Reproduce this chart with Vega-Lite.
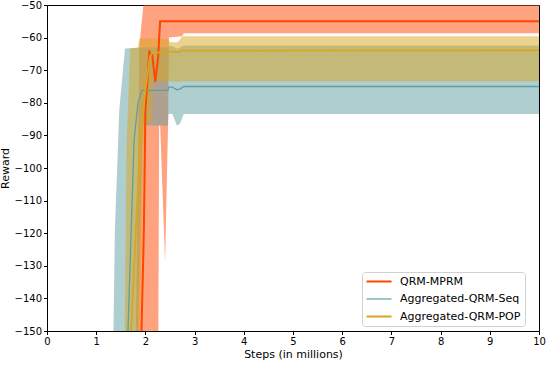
{
  "$schema": "https://vega.github.io/schema/vega-lite/v6.json",
  "width": 492,
  "height": 326,
  "autosize": {"type": "none"},
  "padding": {"left": 47, "top": 5, "right": 7, "bottom": 61},
  "background": "white",
  "config": {
    "font": "DejaVu Sans",
    "view": {"stroke": "black", "strokeWidth": 1},
    "axis": {
      "domainColor": "black", "tickColor": "black", "tickSize": 3.5, "grid": false,
      "labelColor": "black", "labelFontSize": 10, "titleFontSize": 11, "titleColor": "black",
      "titleFontWeight": "normal", "labelFont": "DejaVu Sans", "titleFont": "DejaVu Sans",
      "labelOverlap": false
    },
    "legend": {"labelFont": "DejaVu Sans"}
  },
  "data": {"values": [
    {"s": "QRM-MPRM", "x": 1.5, "mean": -400, "lo": -500, "hi": -300},
    {"s": "QRM-MPRM", "x": 1.8, "mean": -260, "lo": -400, "hi": -160},
    {"s": "QRM-MPRM", "x": 1.875, "mean": -200, "lo": -330, "hi": -63},
    {"s": "QRM-MPRM", "x": 1.92, "mean": -150, "lo": -300, "hi": -56},
    {"s": "QRM-MPRM", "x": 1.96, "mean": -125, "lo": -270, "hi": -50},
    {"s": "QRM-MPRM", "x": 1.97, "mean": -118, "lo": -260, "hi": -49},
    {"s": "QRM-MPRM", "x": 2.0, "mean": -82, "lo": -240, "hi": -46},
    {"s": "QRM-MPRM", "x": 2.08, "mean": -64.4, "lo": -210, "hi": -44},
    {"s": "QRM-MPRM", "x": 2.14, "mean": -65.5, "lo": -195, "hi": -44},
    {"s": "QRM-MPRM", "x": 2.2, "mean": -73.6, "lo": -180, "hi": -44},
    {"s": "QRM-MPRM", "x": 2.26, "mean": -66, "lo": -160, "hi": -44},
    {"s": "QRM-MPRM", "x": 2.28, "mean": -60, "lo": -87, "hi": -44},
    {"s": "QRM-MPRM", "x": 2.3, "mean": -55, "lo": -87, "hi": -48},
    {"s": "QRM-MPRM", "x": 2.4, "mean": -55, "lo": -129, "hi": -48},
    {"s": "QRM-MPRM", "x": 2.46, "mean": -55, "lo": -87, "hi": -48},
    {"s": "QRM-MPRM", "x": 2.48, "mean": -55, "lo": -60, "hi": -48},
    {"s": "QRM-MPRM", "x": 2.75, "mean": -55, "lo": -59.6, "hi": -48},
    {"s": "QRM-MPRM", "x": 2.78, "mean": -55, "lo": -58.7, "hi": -48},
    {"s": "QRM-MPRM", "x": 10, "mean": -55, "lo": -58.7, "hi": -48},

    {"s": "Aggregated-QRM-Seq", "x": 1.2, "mean": -350, "lo": -500, "hi": -250},
    {"s": "Aggregated-QRM-Seq", "x": 1.35, "mean": -280, "lo": -450, "hi": -150},
    {"s": "Aggregated-QRM-Seq", "x": 1.38, "mean": -270, "lo": -440, "hi": -119},
    {"s": "Aggregated-QRM-Seq", "x": 1.47, "mean": -230, "lo": -400, "hi": -82},
    {"s": "Aggregated-QRM-Seq", "x": 1.585, "mean": -170, "lo": -330, "hi": -63.4},
    {"s": "Aggregated-QRM-Seq", "x": 1.646, "mean": -150, "lo": -300, "hi": -63.3},
    {"s": "Aggregated-QRM-Seq", "x": 1.77, "mean": -91.5, "lo": -220, "hi": -63.2},
    {"s": "Aggregated-QRM-Seq", "x": 1.85, "mean": -80, "lo": -150, "hi": -63.1},
    {"s": "Aggregated-QRM-Seq", "x": 1.93, "mean": -76.2, "lo": -95, "hi": -63},
    {"s": "Aggregated-QRM-Seq", "x": 1.95, "mean": -76.2, "lo": -87, "hi": -63},
    {"s": "Aggregated-QRM-Seq", "x": 2.46, "mean": -76.2, "lo": -87, "hi": -63},
    {"s": "Aggregated-QRM-Seq", "x": 2.47, "mean": -75.2, "lo": -83.4, "hi": -62.6},
    {"s": "Aggregated-QRM-Seq", "x": 2.55, "mean": -75.2, "lo": -83.4, "hi": -62.6},
    {"s": "Aggregated-QRM-Seq", "x": 2.64, "mean": -76, "lo": -87, "hi": -63.4},
    {"s": "Aggregated-QRM-Seq", "x": 2.7, "mean": -75.8, "lo": -86.5, "hi": -63},
    {"s": "Aggregated-QRM-Seq", "x": 2.78, "mean": -75, "lo": -83.4, "hi": -62.4},
    {"s": "Aggregated-QRM-Seq", "x": 10, "mean": -75, "lo": -83.4, "hi": -62.4},

    {"s": "Aggregated-QRM-POP", "x": 1.4, "mean": -350, "lo": -500, "hi": -250},
    {"s": "Aggregated-QRM-POP", "x": 1.58, "mean": -250, "lo": -400, "hi": -150},
    {"s": "Aggregated-QRM-POP", "x": 1.62, "mean": -220, "lo": -380, "hi": -92},
    {"s": "Aggregated-QRM-POP", "x": 1.69, "mean": -160, "lo": -330, "hi": -63.5},
    {"s": "Aggregated-QRM-POP", "x": 1.71, "mean": -150, "lo": -300, "hi": -63.3},
    {"s": "Aggregated-QRM-POP", "x": 1.85, "mean": -105, "lo": -200, "hi": -63},
    {"s": "Aggregated-QRM-POP", "x": 1.87, "mean": -100, "lo": -180, "hi": -60.5},
    {"s": "Aggregated-QRM-POP", "x": 1.89, "mean": -91.6, "lo": -150, "hi": -60.3},
    {"s": "Aggregated-QRM-POP", "x": 1.95, "mean": -84, "lo": -95, "hi": -60.3},
    {"s": "Aggregated-QRM-POP", "x": 2.0, "mean": -76, "lo": -87, "hi": -60.3},
    {"s": "Aggregated-QRM-POP", "x": 2.09, "mean": -66, "lo": -86, "hi": -60.3},
    {"s": "Aggregated-QRM-POP", "x": 2.13, "mean": -64.8, "lo": -86, "hi": -60.3},
    {"s": "Aggregated-QRM-POP", "x": 2.15, "mean": -64.7, "lo": -73.4, "hi": -60.3},
    {"s": "Aggregated-QRM-POP", "x": 2.45, "mean": -64.4, "lo": -73.4, "hi": -60.5},
    {"s": "Aggregated-QRM-POP", "x": 2.5, "mean": -64.2, "lo": -73.4, "hi": -61.4},
    {"s": "Aggregated-QRM-POP", "x": 2.66, "mean": -64.5, "lo": -73.6, "hi": -61.4},
    {"s": "Aggregated-QRM-POP", "x": 2.75, "mean": -64, "lo": -73.4, "hi": -59.6},
    {"s": "Aggregated-QRM-POP", "x": 10, "mean": -63.9, "lo": -73.4, "hi": -59.6}
  ]},
  "encoding": {
    "x": {"field": "x", "type": "quantitative",
      "scale": {"domain": [0, 10], "nice": false, "zero": false},
      "axis": {"values": [0,1,2,3,4,5,6,7,8,9,10], "title": "Steps (in millions)", "labelPadding": 2, "titlePadding": 2, "labelFlush": false}},
    "color": {"field": "s", "type": "nominal",
      "scale": {"domain": ["QRM-MPRM", "Aggregated-QRM-Seq", "Aggregated-QRM-POP"], "range": ["#FF4500", "#5F9EA0", "#DAA520"]},
      "legend": {
        "title": null, "orient": "none", "legendX": 315, "legendY": 267,
        "padding": 4, "rowPadding": 5.5, "symbolSize": 100, "symbolType": "M-1,0H4",
        "symbolStrokeWidth": 2, "labelOffset": 23, "labelFontSize": 11, "labelColor": "black",
        "strokeColor": "#d0d0d0", "cornerRadius": 3, "fillColor": "rgba(255,255,255,0.8)",
        "labelLimit": 300,
        "encode": {"symbols": {"update": {"strokeWidth": {"signal": "datum.value === 'Aggregated-QRM-Seq' ? 1.2 : 2"}}}}
      }}
  },
  "layer": [
    {"transform": [{"filter": "datum.s === 'QRM-MPRM'"}],
     "mark": {"type": "area", "fillOpacity": 0.5, "clip": true},
     "encoding": {"y": {"field": "lo", "type": "quantitative", "scale": {"domain": [-150, -50], "nice": false, "zero": false},
        "axis": {"values": [-150,-140,-130,-120,-110,-100,-90,-80,-70,-60,-50], "title": "Reward", "labelPadding": 2, "titlePadding": 4, "labelExpr": "replace(datum.label, '-', '\u2212')", "labelFlush": false}},
       "y2": {"field": "hi"}}},
    {"transform": [{"filter": "datum.s === 'Aggregated-QRM-Seq'"}],
     "mark": {"type": "area", "fillOpacity": 0.5, "clip": true},
     "encoding": {"y": {"field": "lo", "type": "quantitative",
        "axis": {"values": [-150,-140,-130,-120,-110,-100,-90,-80,-70,-60,-50], "title": "Reward", "labelPadding": 2, "titlePadding": 4, "labelExpr": "replace(datum.label, '-', '\u2212')", "labelFlush": false}},
       "y2": {"field": "hi"}}},
    {"transform": [{"filter": "datum.s === 'Aggregated-QRM-POP'"}],
     "mark": {"type": "area", "fillOpacity": 0.5, "clip": true},
     "encoding": {"y": {"field": "lo", "type": "quantitative",
        "axis": {"values": [-150,-140,-130,-120,-110,-100,-90,-80,-70,-60,-50], "title": "Reward", "labelPadding": 2, "titlePadding": 4, "labelExpr": "replace(datum.label, '-', '\u2212')", "labelFlush": false}},
       "y2": {"field": "hi"}}},
    {"transform": [{"filter": "datum.s === 'QRM-MPRM'"}],
     "mark": {"type": "line", "strokeWidth": 2, "clip": true},
     "encoding": {"y": {"field": "mean", "type": "quantitative",
        "axis": {"values": [-150,-140,-130,-120,-110,-100,-90,-80,-70,-60,-50], "title": "Reward", "labelPadding": 2, "titlePadding": 4, "labelExpr": "replace(datum.label, '-', '\u2212')", "labelFlush": false}}}},
    {"transform": [{"filter": "datum.s === 'Aggregated-QRM-Seq'"}],
     "mark": {"type": "line", "strokeWidth": 1.3, "clip": true},
     "encoding": {"y": {"field": "mean", "type": "quantitative",
        "axis": {"values": [-150,-140,-130,-120,-110,-100,-90,-80,-70,-60,-50], "title": "Reward", "labelPadding": 2, "titlePadding": 4, "labelExpr": "replace(datum.label, '-', '\u2212')", "labelFlush": false}}}},
    {"transform": [{"filter": "datum.s === 'Aggregated-QRM-POP'"}],
     "mark": {"type": "line", "strokeWidth": 1.8, "clip": true},
     "encoding": {"y": {"field": "mean", "type": "quantitative",
        "axis": {"values": [-150,-140,-130,-120,-110,-100,-90,-80,-70,-60,-50], "title": "Reward", "labelPadding": 2, "titlePadding": 4, "labelExpr": "replace(datum.label, '-', '\u2212')", "labelFlush": false}}}}
  ]
}
